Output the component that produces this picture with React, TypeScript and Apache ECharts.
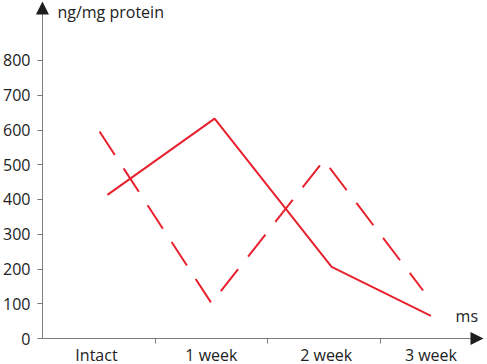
import React, { useEffect, useRef } from "react";
import * as echarts from "echarts";

const categories = ["Intact", "1 week", "2 week", "3 week"];
const categoryX = [0.48, 1.5, 2.52, 3.45];
const boundaryTicks = [1, 2, 3];
const yTicks = [0, 100, 200, 300, 400, 500, 600, 700, 800];

const solidX = [0.577, 1.529, 2.568, 3.45];
const solidY = [413, 632, 206, 65];
const dashedX = [0.507, 1.5, 2.5, 3.38];
const dashedY = [595, 102, 512, 138];

const RED = "#e8212e";
const AXIS = "#7a7a7a";
const ARROW = "#1e1e1e";
const TEXT = "#222222";
const FONT = "Open Sans";

const X_MAX = 3.859;
const Y_MAX = 950;

export default function App() {
  const ref = useRef<HTMLDivElement>(null);
  useEffect(() => {
    if (!ref.current) return;
    const chart = echarts.init(ref.current, undefined, { renderer: "svg" });
    const arrowAxis = {
      show: true,
      lineStyle: { color: ARROW, width: 0, opacity: 1 },
      symbol: ["none", "triangle"],
      symbolSize: [13, 13],
    };
    chart.setOption({
      animation: false,
      backgroundColor: "#ffffff",
      grid: { left: 40, top: 8, bottom: 25.5, width: 437 },
      graphic: [
        {
          type: "text",
          right: 9,
          top: 308,
          style: { text: "ms", fontFamily: FONT, fontSize: 16, fill: TEXT },
        },
      ],
      xAxis: [
        {
          type: "value",
          min: 0,
          max: X_MAX,
          axisLine: { show: true, lineStyle: { color: AXIS, width: 1 } },
          axisTick: { show: true, length: 5, lineStyle: { color: AXIS }, customValues: boundaryTicks },
          axisLabel: {
            customValues: categoryX,
            fontFamily: FONT,
            fontSize: 16,
            color: TEXT,
            margin: 8,
            formatter: (v: number) => {
              const i = categoryX.findIndex((c) => Math.abs(c - v) < 1e-6);
              return i >= 0 ? categories[i] : "";
            },
          },
          splitLine: { show: false },
        },
        {
          type: "value",
          min: 0,
          max: X_MAX,
          position: "bottom",
          axisLine: arrowAxis,
          axisTick: { show: false },
          axisLabel: { show: false },
          splitLine: { show: false },
        },
      ],
      yAxis: [
        {
          type: "value",
          min: 0,
          max: Y_MAX,
          name: "ng/mg protein",
          nameLocation: "end",
          nameGap: -4,
          nameTextStyle: {
            fontFamily: FONT,
            fontSize: 16,
            color: TEXT,
            align: "left",
            verticalAlign: "middle",
            padding: [0, 0, 0, 15],
          },
          axisLine: { show: true, lineStyle: { color: AXIS, width: 1 } },
          axisTick: { show: true, length: 5, lineStyle: { color: AXIS }, customValues: yTicks },
          axisLabel: {
            customValues: yTicks,
            fontFamily: FONT,
            fontSize: 16,
            color: TEXT,
            margin: 12,
          },
          splitLine: { show: false },
        },
        {
          type: "value",
          min: 0,
          max: Y_MAX,
          position: "left",
          axisLine: arrowAxis,
          axisTick: { show: false },
          axisLabel: { show: false },
          splitLine: { show: false },
        },
      ],
      series: [
        {
          type: "line",
          data: solidX.map((x, i) => [x, solidY[i]]),
          showSymbol: false,
          lineStyle: { color: RED, width: 2 },
        },
        {
          type: "line",
          data: dashedX.map((x, i) => [x, dashedY[i]]),
          showSymbol: false,
          lineStyle: { color: RED, width: 2, type: [28, 16] },
        },
      ],
    });
    return () => chart.dispose();
  }, []);
  return <div ref={ref} style={{ width: 487, height: 364, position: "absolute", left: 0, top: 0 }} />;
}
